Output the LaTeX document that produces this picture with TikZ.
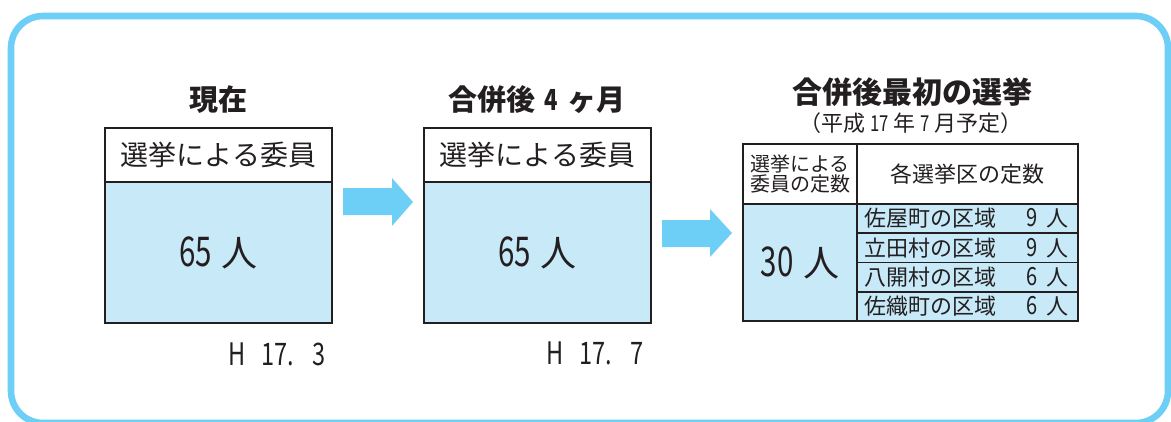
\documentclass[tikz,border=0pt]{standalone}
\usepackage{fontspec}
\newfontfamily\jp{Noto Sans CJK JP}
\definecolor{frameblue}{HTML}{6DCFF6}
\definecolor{cellblue}{HTML}{C7E9F8}
\definecolor{ink}{HTML}{231F20}
\newcommand\fsz[1]{\fontsize{#1}{#1}\selectfont}
\newcommand\nar[1]{\scalebox{0.76}[1]{#1}}
\newcommand\bignum[1]{{\fsz{41}\scalebox{0.72}[1]{#1}}}
\newcommand\rownum[1]{{\fsz{25}\scalebox{0.8}[1]{#1}}}
\begin{document}
\begin{tikzpicture}[x=1pt,y=-1pt,
  every node/.style={font=\jp, text=ink, inner sep=0pt, outer sep=0pt},
  cell/.style={draw=ink, line width=1.8pt, anchor=north west},
  wcell/.style={cell, fill=white},
  bcell/.style={cell, fill=cellblue},
  ttl/.style={font=\jp\bfseries\fsz{29}},
  hdr/.style={font=\jp\fsz{28}},
  big/.style={font=\jp\fsz{36}},
  date/.style={font=\jp\fsz{31}},
  arr/.style={fill=frameblue}]
\useasboundingbox (0,0) rectangle (1171,421);
% outer frame
\draw[frameblue, line width=6.6pt, rounded corners=32pt] (11,16) rectangle (1168,423);

% column 1
\node[ttl] (t1) at (218,100) {現在};
\node[wcell, hdr, minimum width=227pt, minimum height=54pt] (h1) at (105,128) {選挙による委員};
\node[bcell, big, minimum width=227pt, minimum height=141pt] (b1) at (105,182) {\bignum{65}\hspace{10pt}人};
\node[date] (d1) at (277,354) {\nar{H\hspace{20pt}17.\hspace{24pt}3}};

% column 2
\node[ttl] (t2) at (537,100) {合併後\hspace{9pt}\nar{4}\hspace{9pt}ヶ月};
\node[wcell, hdr, minimum width=227pt, minimum height=54pt] (h2) at (424,128) {選挙による委員};
\node[bcell, big, minimum width=227pt, minimum height=141pt] (b2) at (424,182) {\bignum{65}\hspace{10pt}人};
\node[date] (d2) at (595,353) {\nar{H\hspace{20pt}17.\hspace{24pt}7}};

% column 3
\node[font=\jp\bfseries\fsz{30}] (t3) at (912,92) {合併後最初の選挙};
\node[font=\jp\fsz{22}] (s3) at (911,123) {（平成\hspace{5pt}\nar{17}\hspace{5pt}年\hspace{5pt}\nar{7}\hspace{5pt}月予定）};
\node[wcell, minimum width=114pt, minimum height=60pt, align=center, font=\jp\fsz{20}] (hl) at (743,144)
  {\fontsize{20}{27}\selectfont 選挙による\\委員の定数};
\node[wcell, minimum width=221pt, minimum height=60pt, font=\jp\fsz{22}] (hr) at (857,144) {各選挙区の定数};
\node[bcell, big, minimum width=114pt, minimum height=117pt] (tot) at (743,204) {\bignum{30}\hspace{10pt}人};
\node[bcell, minimum width=221pt, minimum height=29.25pt] (r1) at (857,204) {};
\node[bcell, minimum width=221pt, minimum height=29.25pt] (r2) at (857,233.25) {};
\node[bcell, minimum width=221pt, minimum height=29.25pt] (r3) at (857,262.5) {};
\node[bcell, minimum width=221pt, minimum height=29.25pt] (r4) at (857,291.75) {};
\foreach \r/\name/\n in {r1/佐屋町の区域/9, r2/立田村の区域/9, r3/八開村の区域/6, r4/佐織町の区域/6}{
  \node[font=\jp\fsz{22}, anchor=west] (\r l) at ([xshift=7pt]\r.west) {\name};
  \node[font=\jp\fsz{22}, anchor=east] (\r n) at ([xshift=-10pt]\r.east) {\rownum{\n}\hspace{8pt}人};
}

% arrows
\coordinate (a1s) at (343,188);
\fill[arr] (a1s) -- (392,188) -- (392,178) -- (413,202) -- (392,226) -- (392,215) -- (343,215) -- cycle;
\coordinate (a2s) at (662,220);
\fill[arr] (a2s) -- (710,220) -- (710,209) -- (732,233) -- (710,257) -- (710,247) -- (662,247) -- cycle;
\end{tikzpicture}
\end{document}
